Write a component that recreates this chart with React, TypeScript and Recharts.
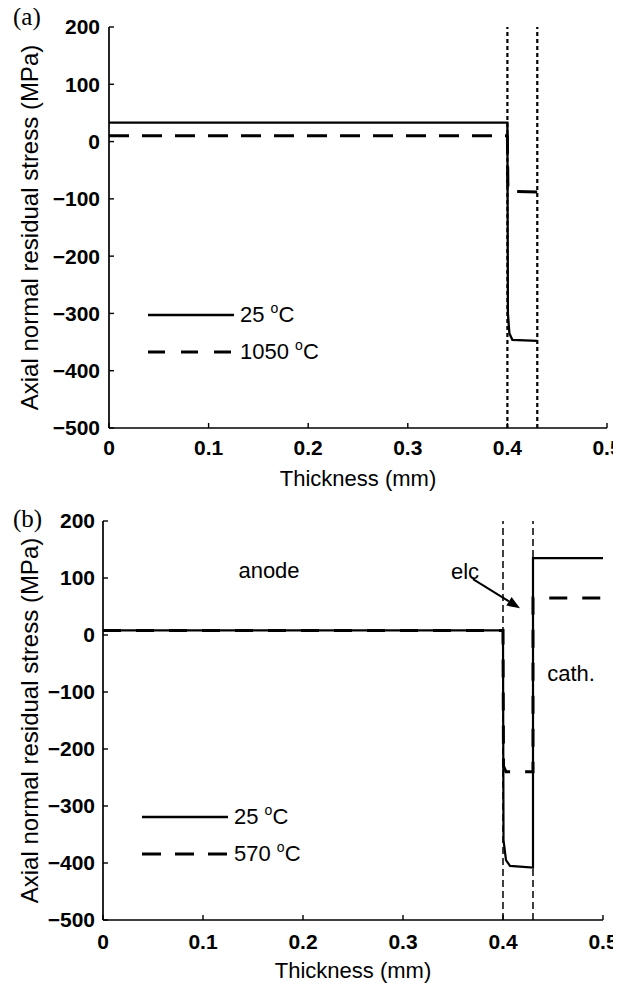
import React from "react";
import { LineChart, Line, XAxis, YAxis, ReferenceLine, ReferenceDot, Legend } from "recharts";

const FONT = '"Liberation Sans", Arial, Helvetica, sans-serif';
const SERIF = '"Liberation Serif", "Times New Roman", serif';

const thicknessTicks = [0, 0.1, 0.2, 0.3, 0.4, 0.5];
const stressTicks = [-500, -400, -300, -200, -100, 0, 100, 200];
const interfaces = [0.4, 0.43];

// (a) cell cooled from sintering: 25 °C and 1050 °C
const aThick25 = [0, 0.4, 0.4005, 0.402, 0.405, 0.43];
const aStress25 = [33, 33, -300, -335, -346, -348];
const aThick1050 = [0, 0.4, 0.4005, 0.402, 0.43];
const aStress1050 = [10, 10, -80, -87, -88];

// (b) full cell with cathode: 25 °C and 570 °C
const bThick25 = [0, 0.4, 0.4005, 0.403, 0.407, 0.43, 0.43, 0.5];
const bStress25 = [8, 8, -360, -395, -405, -408, 135, 135];
const bThick570 = [0, 0.4, 0.4005, 0.403, 0.43, 0.43, 0.5];
const bStress570 = [8, 8, -230, -240, -240, 65, 65];

const zip = (xs: number[], ys: number[]) => xs.map((x, i) => ({ x, y: ys[i] }));

const fmtStress = (v: number) => (v < 0 ? "\u2212" + Math.abs(v) : String(v));

const tickStyle = { fill: "#000", fontSize: 21, fontWeight: 700, fontFamily: FONT };
const noteStyle = { fill: "#000", fontSize: 22, fontFamily: FONT };

type Entry = { temp: string; dash?: string };

const makeLegend = (entries: Entry[], lineW: number) => () => (
  <div style={{ fontFamily: FONT, fontSize: 22, color: "#000" }}>
    {entries.map((e) => (
      <div key={e.temp} style={{ display: "flex", alignItems: "center", height: 37 }}>
        <svg width={lineW} height={6}>
          <line x1={0} y1={3} x2={lineW} y2={3} stroke="#000" strokeWidth={e.dash ? 3 : 2.5} strokeDasharray={e.dash} />
        </svg>
        <span style={{ marginLeft: 6 }}>
          {e.temp}{" "}
          <span style={{ fontSize: 14, position: "relative", top: -9 }}>o</span>C
        </span>
      </div>
    ))}
  </div>
);

const Arrow = (p: any) => {
  const { x1, y1, x2, y2 } = p;
  const ang = Math.atan2(y2 - y1, x2 - x1);
  const L = 13;
  const W = 5;
  const bx = x2 - L * Math.cos(ang);
  const by = y2 - L * Math.sin(ang);
  const px = -Math.sin(ang) * W;
  const py = Math.cos(ang) * W;
  return (
    <g>
      <line x1={x1} y1={y1} x2={bx} y2={by} stroke="#000" strokeWidth={2} />
      <polygon points={`${x2},${y2} ${bx + px},${by + py} ${bx - px},${by - py}`} fill="#000" />
    </g>
  );
};

interface PanelProps {
  top: number;
  height: number;
  leftW: number;
  right: number;
  xTickMargin: number;
  yTickMargin: number;
  ifDash: string;
  ifWidth: number;
  legend: () => React.ReactNode;
  legendPos: { left: number; top: number };
  children: React.ReactNode;
}

function Panel(props: PanelProps) {
  const { top, height, leftW, right, xTickMargin, yTickMargin, ifDash, ifWidth, legend, legendPos, children } = props;
  return (
    <div style={{ position: "absolute", left: 0, top }}>
      <LineChart width={621} height={height} margin={{ top: 27, right, bottom: 0, left: 0 }}>
        <XAxis
          dataKey="x"
          type="number"
          domain={[0, 0.5]}
          ticks={thicknessTicks}
          interval={0}
          height={62}
          tickSize={-5}
          tickMargin={xTickMargin}
          tick={tickStyle}
          axisLine={{ stroke: "#000", strokeWidth: 1.7 }}
          tickLine={{ stroke: "#000", strokeWidth: 1.4 }}
          allowDataOverflow
          label={{
            value: "Thickness (mm)",
            position: "insideBottom",
            offset: 4,
            fill: "#000",
            fontSize: 22,
            fontFamily: FONT,
          }}
        />
        <XAxis
          xAxisId="top"
          orientation="top"
          type="number"
          domain={[0, 0.5]}
          ticks={thicknessTicks}
          interval={0}
          height={0}
          tickSize={-5}
          tick={false}
          axisLine={{ stroke: "#000", strokeWidth: 1.7 }}
          tickLine={{ stroke: "#000", strokeWidth: 1.4 }}
        />
        <YAxis
          type="number"
          domain={[-500, 200]}
          ticks={stressTicks}
          interval={0}
          width={leftW}
          tickSize={-5}
          tickMargin={yTickMargin}
          tick={tickStyle}
          tickFormatter={fmtStress}
          axisLine={{ stroke: "#000", strokeWidth: 1.7 }}
          tickLine={{ stroke: "#000", strokeWidth: 1.4 }}
          allowDataOverflow
          label={{
            value: "Axial normal residual stress (MPa)",
            angle: -90,
            position: "insideLeft",
            offset: 29,
            fill: "#000",
            fontSize: 24,
            fontFamily: FONT,
            style: { textAnchor: "middle" },
          }}
        />
        <YAxis
          yAxisId="right"
          orientation="right"
          type="number"
          domain={[-500, 200]}
          ticks={stressTicks}
          interval={0}
          width={0}
          tickSize={-5}
          tick={false}
          axisLine={{ stroke: "#000", strokeWidth: 1.7 }}
          tickLine={{ stroke: "#000", strokeWidth: 1.4 }}
        />
        {interfaces.map((x) => (
          <ReferenceLine key={x} x={x} stroke="#000" strokeWidth={ifWidth} strokeDasharray={ifDash} />
        ))}
        {children}
        <Legend
          layout="horizontal"
          verticalAlign="middle"
          align="center"
          content={legend}
          wrapperStyle={{ left: legendPos.left, top: legendPos.top, width: 240, height: 80 }}
        />
      </LineChart>
    </div>
  );
}

export default function App() {
  return (
    <div style={{ position: "relative", width: 621, height: 983, marginLeft: -8, marginTop: -8, background: "#fff" }}>
      <style>{`.recharts-surface { overflow: visible; }`}</style>
      <div style={{ position: "absolute", left: 13, top: 3, fontFamily: SERIF, fontSize: 25 }}>(a)</div>
      <div style={{ position: "absolute", left: 13, top: 505, fontFamily: SERIF, fontSize: 25 }}>(b)</div>

      <Panel
        top={0}
        height={490}
        leftW={109}
        right={14}
        xTickMargin={17}
        yTickMargin={14}
        ifDash="4 3"
        ifWidth={2.2}
        legend={makeLegend([{ temp: "25" }, { temp: "1050", dash: "17 16" }], 86)}
        legendPos={{ left: 148, top: 296 }}
      >
        <Line data={zip(aThick25, aStress25)} dataKey="y" type="linear" stroke="#000" strokeWidth={2.3} dot={false} isAnimationActive={false} />
        <Line data={zip(aThick1050, aStress1050)} dataKey="y" type="linear" stroke="#000" strokeWidth={3} strokeDasharray="20 13" dot={false} isAnimationActive={false} />
      </Panel>

      <Panel
        top={494}
        height={488}
        leftW={103}
        right={18}
        xTickMargin={19}
        yTickMargin={13}
        ifDash="7 4"
        ifWidth={1.5}
        legend={makeLegend([{ temp: "25" }, { temp: "570", dash: "19 14" }], 86)}
        legendPos={{ left: 142, top: 304 }}
      >
        <Line data={zip(bThick25, bStress25)} dataKey="y" type="linear" stroke="#000" strokeWidth={2.2} dot={false} isAnimationActive={false} />
        <Line data={zip(bThick570, bStress570)} dataKey="y" type="linear" stroke="#000" strokeWidth={3} strokeDasharray="18 15" dot={false} isAnimationActive={false} />
        <ReferenceDot x={0.166} y={114} r={1} fill="none" stroke="none" label={{ value: "anode", position: "center", ...noteStyle }} />
        <ReferenceDot x={0.362} y={112} r={1} fill="none" stroke="none" label={{ value: "elc", position: "center", ...noteStyle }} />
        <ReferenceDot x={0.468} y={-67} r={1} fill="none" stroke="none" label={{ value: "cath.", position: "center", ...noteStyle }} />
        <ReferenceLine segment={[{ x: 0.37, y: 98 }, { x: 0.417, y: 47 }]} shape={Arrow} />
      </Panel>
    </div>
  );
}
